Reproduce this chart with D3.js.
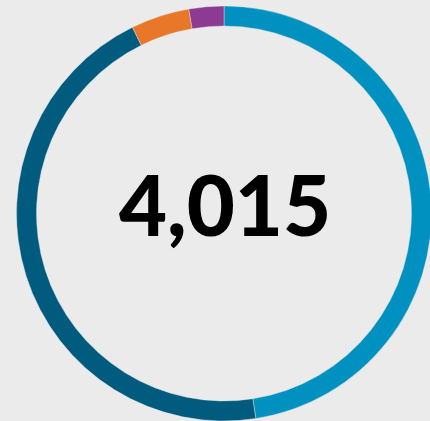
<!DOCTYPE html>
<html>
<head>
<meta charset="utf-8">
<script src="https://cdn.jsdelivr.net/npm/d3@7"></script>
<style>
html,body{margin:0;padding:0;background:#ebebeb;}
svg{display:block;}
</style>
</head>
<body>
<svg id="chart" width="430" height="421"></svg>
<script>
const categories = ["A", "B", "C", "D"];
const values = [1909, 1814, 183, 109];
const colors = ["#0091c0", "#005b7e", "#e8772a", "#8d3b92"];
const totalLabel = "4,015";

const svg = d3.select("#chart");
const cx = 224, cy = 213.5, outerR = 207.5, innerR = 187.5;
const g = svg.append("g").attr("transform", `translate(${cx},${cy})`);

const pie = d3.pie().sort(null).value(d => d.v);
const arc = d3.arc().innerRadius(innerR).outerRadius(outerR);
const data = categories.map((c, i) => ({c, v: values[i], col: colors[i]}));

g.selectAll("path").data(pie(data)).join("path")
  .attr("d", arc)
  .attr("fill", d => d.data.col)
  .attr("stroke", "#ebebeb")
  .attr("stroke-width", 0.4);

g.append("text")
  .attr("x", 1).attr("y", 22)
  .attr("text-anchor", "middle")
  .attr("font-family", "Lato, Roboto, 'Noto Sans', sans-serif")
  .attr("font-weight", 900)
  .attr("font-size", 83)
  .attr("fill", "#000")
  .text(totalLabel);
</script>
</body>
</html>
